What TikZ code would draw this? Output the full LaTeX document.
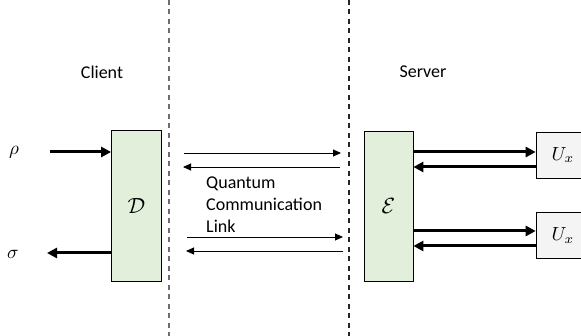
\documentclass[tikz,border=0pt]{standalone}
\usepackage{graphicx}
\usepackage{fontspec}
\setmainfont{Carlito}
\usetikzlibrary{arrows.meta}
\definecolor{boxgreen}{HTML}{E2EFDA}
\definecolor{boxgray}{HTML}{F4F4F4}
\definecolor{dashgray}{HTML}{6E6E6E}
\newcommand{\scaledmath}[2]{\scalebox{#1}{$#2$}}
\begin{document}
\begin{tikzpicture}[x=1pt,y=-1pt,
  lbl/.style={inner sep=0pt,font=\fontsize{18}{22}\selectfont},
  mth/.style={inner sep=0pt},
  procbox/.style={draw=black,line width=0.8pt,fill=boxgreen,minimum width=50pt,minimum height=151pt,inner sep=0pt},
  ubox/.style={draw=black,line width=0.6pt,fill=boxgray,minimum width=45pt,minimum height=46pt,inner sep=0pt},
  thickarr/.style={line width=3pt,-{Triangle[length=10pt,width=10pt]}},
  thinarr/.style={line width=0.9pt,-{Triangle[length=8pt,width=7pt]}},
  sep/.style={line width=1.3pt,dash pattern=on 5pt off 4.5pt}
]
\useasboundingbox (0,0) rectangle (581,336);
% separators
\coordinate (s1t) at (169,0); \coordinate (s1b) at (169,336);
\coordinate (s2t) at (349,0); \coordinate (s2b) at (349,336);
\draw[sep,dashgray] (s1t) -- (s1b);
\draw[sep,black!85] (s2t) -- (s2b);
% labels
\node[lbl] (client) at (102,72) {Client};
\node[lbl] (server) at (423,72) {Server};
% boxes
\node[procbox] (D) at (136.5,206) {\scaledmath{2.2}{\mathcal{D}}};
\node[procbox,minimum width=49pt,minimum height=150pt] (E) at (388.5,206) {\scaledmath{2.2}{\mathcal{E}}};
\node[ubox] (U1) at (558.5,155) {\hspace{9pt}\scaledmath{1.9}{U_x}};
\node[ubox] (U2) at (558.5,235.5) {\hspace{9pt}\scaledmath{1.9}{U_x}};
% inputs / outputs
\node[mth] (rho) at (14,152) {\scaledmath{1.9}{\rho}};
\node[mth] (sigma) at (13,254) {\scaledmath{1.9}{\sigma}};
\coordinate (rhoin) at (50,152);
\coordinate (sigout) at (47,253);
\draw[thickarr] (rhoin) -- (rhoin -| D.west);
\draw[thickarr] (sigout -| D.west) -- (sigout);
% link arrows
\coordinate (l1a) at (184,153); \coordinate (l1b) at (341,153);
\coordinate (l2a) at (183,167); \coordinate (l2b) at (340,167);
\coordinate (l3a) at (187,237); \coordinate (l3b) at (343,237);
\coordinate (l4a) at (186,251); \coordinate (l4b) at (343,251);
\draw[thinarr] (l1a) -- (l1b);
\draw[thinarr] (l2b) -- (l2a);
\draw[thinarr] (l3a) -- (l3b);
\draw[thinarr] (l4b) -- (l4a);
\node[lbl,anchor=west,align=left] (link) at (206,205) {Quantum\\Communication\\Link};
% server to unitaries
\coordinate (u1r) at (0,152); \coordinate (u1l) at (0,167);
\coordinate (u2r) at (0,231); \coordinate (u2l) at (0,246);
\draw[thickarr] (E.east |- u1r) -- (U1.west |- u1r);
\draw[thickarr] (U1.west |- u1l) -- (E.east |- u1l);
\draw[thickarr] (E.east |- u2r) -- (U2.west |- u2r);
\draw[thickarr] (U2.west |- u2l) -- (E.east |- u2l);
\end{tikzpicture}
\end{document}
